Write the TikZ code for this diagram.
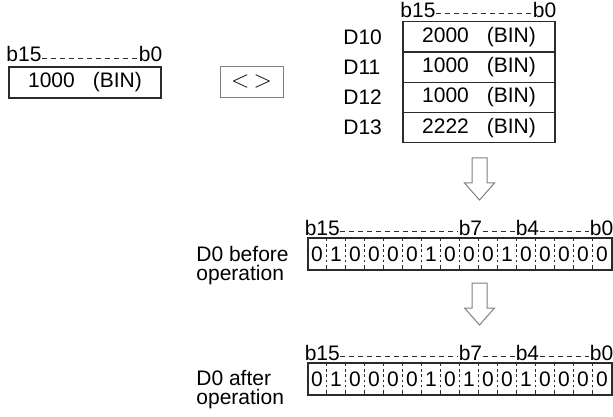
\documentclass[tikz,border=0pt]{standalone}
\usepackage{fontspec}
\setmainfont{Liberation Sans}
\usetikzlibrary{positioning,calc}
\definecolor{DiaLine}{HTML}{2B2B2B}
\definecolor{DiaGray}{HTML}{808080}

\begin{document}
\begin{tikzpicture}[x=0.5pt,y=-0.5pt,
  font=\fontsize{10.5}{9.5}\selectfont,
  reg/.style={draw=DiaLine, line width=0.6pt, minimum width=76pt, minimum height=15.5pt, inner sep=0pt, outer sep=0pt},
  bits/.style={draw=DiaLine, line width=0.6pt, minimum width=152pt, minimum height=16pt, inner sep=0pt},
  lbl/.style={inner sep=0pt},
  bitlbl/.style={inner sep=0pt, anchor=base west},
  span/.style={draw=DiaLine, line width=0.4pt, dash pattern=on 2.5pt off 2pt},
  tick/.style={draw=DiaLine, line width=0.4pt},
  blk/.style={draw=DiaGray, line width=0.5pt, fill=white, line join=miter}]
  \useasboundingbox (0,0) rectangle (613,416);

  \node[reg] (src) at (85,82.5) {1000\hspace{9pt}(BIN)};
  \node[bitlbl] (s15) at ($(src.north west)+(-1.5pt,2.5pt)$) {b15};
  \node[lbl, anchor=base east] (s0) at ($(src.north east)+(0.8pt,2.5pt)$) {b0};
  \draw[span] ($(s15.base east)+(0,2pt)$) -- ($(s0.base west)+(0,2pt)$);

  \node[draw=DiaGray, line width=0.4pt, minimum width=31.5pt, minimum height=15.5pt, inner sep=0pt] (cmp) at (251.5,81.5) {\fontsize{13}{13}\selectfont$<$\,$>$};

  \node[reg, minimum height=15.1pt] (d10) at (479,37) {2000\hspace{9pt}(BIN)};
  \node[reg, minimum height=15.1pt, below=0pt of d10] (d11) {1000\hspace{9pt}(BIN)};
  \node[reg, minimum height=15.1pt, below=0pt of d11] (d12) {1000\hspace{9pt}(BIN)};
  \node[reg, minimum height=15.1pt, below=0pt of d12] (d13) {2222\hspace{9pt}(BIN)};
  \foreach \r in {10,...,13}
    \node[lbl, anchor=west] (l\r) at ($(d\r.west)+(-30pt,0)$) {D\r};
  \node[bitlbl] (t15) at ($(d10.north west)+(-1.5pt,2pt)$) {b15};
  \node[lbl, anchor=base east] (t0) at ($(d10.north east)+(0.8pt,2pt)$) {b0};
  \draw[span] ($(t15.base east)+(0,2pt)$) -- ($(t0.base west)+(0,2pt)$);

  \coordinate (a1) at (479.5,158);
  \draw[blk] (a1) ++(-3.75pt,0) -- ++(0,-12.5pt) -- ++(-3.75pt,0) -- ++(7.5pt,-8.5pt)
    -- ++(7.5pt,8.5pt) -- ++(-3.75pt,0) -- ++(0,12.5pt) -- cycle;

  \node[bits] (before) at (460,254) {};
  \foreach \v [count=\i from 0] in {0,1,0,0,0,0,1,0,0,0,1,0,0,0,0,0}
    \node[lbl] (before\i) at ($(before.west)+(\i*9.5pt+4.75pt,0)$) {\v};
  \foreach \i in {1,...,15} {
    \draw[tick] ($(before.north west)+(\i*9.5pt,0)$) -- ++(0,-2pt);
    \draw[tick] ($(before.south west)+(\i*9.5pt,0)$) -- ++(0,2pt);
    \draw[tick, dash pattern=on 1.2pt off 1.4pt] ($(before.north west)+(\i*9.5pt,-3.4pt)$) -- ($(before.south west)+(\i*9.5pt,2pt)$);
  }
  \node[bitlbl] (p15) at ($(before.north west)+(-1.5pt,1pt)$) {b15};
  \node[bitlbl] (p7) at ($(before.north west)+(75.5pt,1pt)$) {b7};
  \node[bitlbl] (p4) at ($(before.north west)+(104pt,1pt)$) {b4};
  \node[lbl, anchor=base east] (p0) at ($(before.north east)+(0.5pt,1pt)$) {b0};
  \draw[span] ($(p15.base east)+(0,2pt)$) -- ($(p7.base west)+(0,2pt)$);
  \draw[span] ($(p7.base east)+(0,2pt)$) -- ($(p4.base west)+(0,2pt)$);
  \draw[span] ($(p4.base east)+(0,2pt)$) -- ($(p0.base west)+(0,2pt)$);
  \node[lbl, anchor=base west, align=left] (tb) at (196,280) {D0 before\\operation};

  \coordinate (a2) at (479.5,283);
  \draw[blk] (a2) ++(-3.75pt,0) -- ++(0,-12.5pt) -- ++(-3.75pt,0) -- ++(7.5pt,-8.5pt)
    -- ++(7.5pt,8.5pt) -- ++(-3.75pt,0) -- ++(0,12.5pt) -- cycle;

  \node[bits] (after) at (460,379) {};
  \foreach \v [count=\i from 0] in {0,1,0,0,0,0,1,0,1,0,0,1,0,0,0,0}
    \node[lbl] (after\i) at ($(after.west)+(\i*9.5pt+4.75pt,0)$) {\v};
  \foreach \i in {1,...,15} {
    \draw[tick] ($(after.north west)+(\i*9.5pt,0)$) -- ++(0,-2pt);
    \draw[tick] ($(after.south west)+(\i*9.5pt,0)$) -- ++(0,2pt);
    \draw[tick, dash pattern=on 1.2pt off 1.4pt] ($(after.north west)+(\i*9.5pt,-3.4pt)$) -- ($(after.south west)+(\i*9.5pt,2pt)$);
  }
  \node[bitlbl] (q15) at ($(after.north west)+(-1.5pt,1pt)$) {b15};
  \node[bitlbl] (q7) at ($(after.north west)+(75.5pt,1pt)$) {b7};
  \node[bitlbl] (q4) at ($(after.north west)+(104pt,1pt)$) {b4};
  \node[lbl, anchor=base east] (q0) at ($(after.north east)+(0.5pt,1pt)$) {b0};
  \draw[span] ($(q15.base east)+(0,2pt)$) -- ($(q7.base west)+(0,2pt)$);
  \draw[span] ($(q7.base east)+(0,2pt)$) -- ($(q4.base west)+(0,2pt)$);
  \draw[span] ($(q4.base east)+(0,2pt)$) -- ($(q0.base west)+(0,2pt)$);
  \node[lbl, anchor=base west, align=left] (ta) at (196,404) {D0 after\\operation};
\end{tikzpicture}
\end{document}
